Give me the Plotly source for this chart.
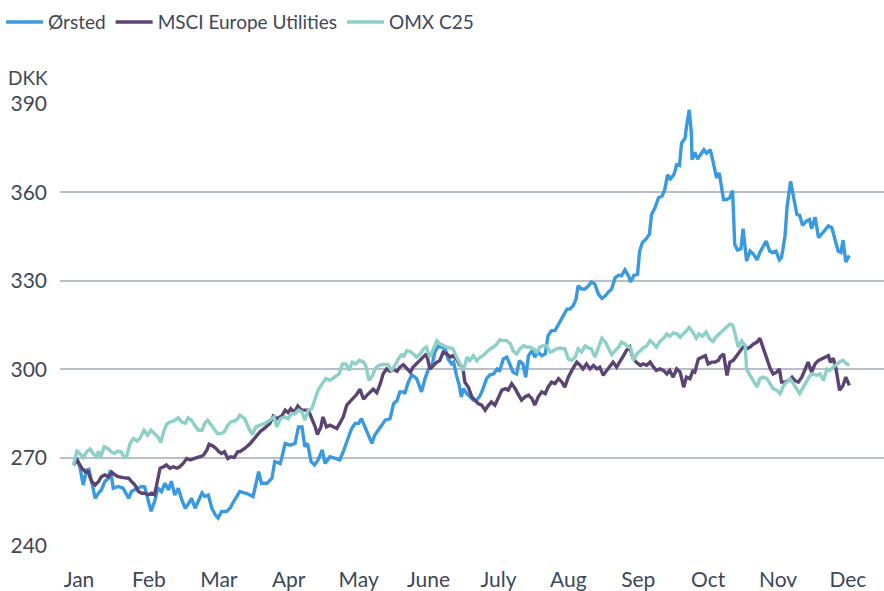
import plotly.graph_objects as go

# x positions are in months (0 = Jan, 11 = Dec)
months = ["Jan", "Feb", "Mar", "Apr", "May", "June", "July", "Aug", "Sep", "Oct", "Nov", "Dec"]

orsted_x = [-0.08, -0.03, 0.01, 0.06, 0.11, 0.14, 0.18, 0.23, 0.28, 0.32, 0.37, 0.42, 0.45, 0.49, 0.56, 0.63, 0.71, 0.75, 0.83, 0.90, 0.94, 0.99, 1.03, 1.08, 1.13, 1.18, 1.23, 1.28, 1.32, 1.37, 1.42, 1.47, 1.52, 1.57, 1.61, 1.66, 1.71, 1.76, 1.80, 1.85, 1.90, 1.95, 1.99, 2.04, 2.11, 2.16, 2.21, 2.26, 2.30, 2.40, 2.49, 2.57, 2.61, 2.69, 2.76, 2.80, 2.88, 2.95, 3.02, 3.09, 3.14, 3.19, 3.23, 3.27, 3.32, 3.37, 3.42, 3.48, 3.52, 3.59, 3.66, 3.73, 3.78, 3.83, 3.90, 3.95, 4.00, 4.04, 4.09, 4.14, 4.19, 4.23, 4.31, 4.38, 4.45, 4.50, 4.55, 4.59, 4.64, 4.66, 4.71, 4.76, 4.83, 4.90, 4.95, 5.00, 5.05, 5.09, 5.14, 5.19, 5.24, 5.28, 5.33, 5.36, 5.40, 5.44, 5.47, 5.50, 5.55, 5.59, 5.64, 5.69, 5.74, 5.78, 5.83, 5.88, 5.93, 5.98, 6.02, 6.07, 6.12, 6.17, 6.21, 6.26, 6.30, 6.35, 6.39, 6.43, 6.48, 6.52, 6.57, 6.62, 6.67, 6.71, 6.76, 6.81, 6.86, 6.91, 6.93, 6.98, 7.02, 7.07, 7.11, 7.14, 7.19, 7.24, 7.29, 7.33, 7.38, 7.43, 7.48, 7.53, 7.57, 7.62, 7.67, 7.72, 7.76, 7.81, 7.86, 7.89, 7.94, 7.99, 8.02, 8.06, 8.11, 8.16, 8.19, 8.24, 8.29, 8.34, 8.38, 8.42, 8.46, 8.51, 8.55, 8.59, 8.62, 8.67, 8.69, 8.73, 8.76, 8.77, 8.81, 8.85, 8.89, 8.94, 8.98, 9.03, 9.07, 9.12, 9.16, 9.22, 9.27, 9.31, 9.35, 9.38, 9.42, 9.47, 9.50, 9.55, 9.60, 9.65, 9.70, 9.74, 9.79, 9.83, 9.88, 9.92, 9.97, 10.02, 10.05, 10.10, 10.13, 10.18, 10.22, 10.27, 10.31, 10.35, 10.40, 10.45, 10.48, 10.53, 10.58, 10.63, 10.67, 10.72, 10.77, 10.82, 10.86, 10.90, 10.93, 10.97, 11.02]
orsted_y = [267.5, 269.7, 267, 260.7, 265.8, 266, 262, 256.2, 258, 259, 261.9, 263, 265.8, 259.6, 260.2, 259.6, 256.2, 258.5, 259.6, 260.2, 260, 255, 251.8, 255, 259.6, 258.5, 261.3, 259, 262, 257.3, 259.6, 255.7, 252.8, 254.5, 256.2, 252.8, 255.7, 258, 256.8, 257.3, 252.8, 250.6, 249.5, 251.7, 251.7, 252.8, 255, 256.8, 258.5, 257.8, 256.8, 265.2, 261.3, 261.3, 263, 268.6, 268, 274.8, 274.2, 274.8, 280.4, 280.4, 273.7, 274.8, 268.6, 267.5, 269.2, 272.6, 268, 270.3, 269.7, 269.2, 272, 275.4, 279.9, 281.6, 281.6, 283.2, 280.4, 277.6, 274.8, 277.6, 280.4, 282.7, 283.2, 288.3, 289.4, 292.3, 292.3, 291.7, 295.6, 298.1, 296.8, 292.3, 296.8, 300.1, 301.3, 305.8, 307.8, 307.5, 306.9, 303.5, 301.8, 302.4, 297.9, 294.5, 290.6, 293.4, 291.7, 290.6, 289.5, 289.5, 291.1, 293.4, 296.8, 298.1, 298.4, 300.1, 299.6, 303.5, 304.1, 301.3, 299, 298.4, 302.9, 301.8, 297.3, 304.6, 306.3, 304.1, 305.8, 304.6, 305.2, 311.4, 313.1, 313.1, 315.3, 317.6, 318.2, 320.4, 320.4, 321.5, 323.8, 328.3, 327.2, 327.2, 328.3, 329.6, 328.9, 325.5, 324, 324.9, 326.1, 327.2, 331.1, 331.9, 331.7, 333.7, 331.7, 329.6, 331.9, 332.2, 340.1, 343, 344.1, 345.8, 352.5, 354.8, 358.2, 358.7, 361, 366, 364.6, 366, 369.4, 369.1, 376.7, 378.4, 382.3, 388, 380.1, 371.1, 373.6, 371.3, 372.8, 374.5, 373.3, 374.5, 370.5, 364.9, 366.6, 357.6, 357.6, 358.2, 360.6, 342.4, 340.4, 340.9, 347.7, 336.7, 340.1, 339, 337.1, 339.6, 341.8, 343.5, 340.1, 339.6, 340.1, 337.1, 337.9, 345.2, 355.3, 363.8, 358.7, 352.5, 352.2, 348.8, 350.2, 350.8, 347.7, 351.6, 344.6, 346.1, 346.9, 348.6, 348, 344.1, 340.1, 339.6, 343.8, 336.4, 338.6]

msci_x = [-0.08, -0.03, 0.04, 0.09, 0.13, 0.18, 0.23, 0.28, 0.32, 0.37, 0.42, 0.47, 0.52, 0.56, 0.63, 0.71, 0.75, 0.80, 0.85, 0.90, 0.94, 0.99, 1.04, 1.08, 1.11, 1.16, 1.21, 1.25, 1.30, 1.35, 1.40, 1.44, 1.49, 1.54, 1.59, 1.64, 1.68, 1.73, 1.78, 1.83, 1.86, 1.91, 1.96, 2.00, 2.04, 2.08, 2.13, 2.17, 2.22, 2.27, 2.30, 2.37, 2.45, 2.52, 2.59, 2.66, 2.73, 2.78, 2.83, 2.90, 2.95, 2.99, 3.03, 3.08, 3.13, 3.18, 3.23, 3.28, 3.33, 3.38, 3.41, 3.46, 3.49, 3.54, 3.59, 3.64, 3.69, 3.73, 3.78, 3.83, 3.88, 3.92, 3.97, 4.02, 4.07, 4.12, 4.16, 4.21, 4.26, 4.31, 4.35, 4.40, 4.45, 4.50, 4.55, 4.59, 4.64, 4.69, 4.74, 4.78, 4.83, 4.88, 4.93, 4.97, 5.02, 5.07, 5.12, 5.16, 5.21, 5.26, 5.31, 5.35, 5.40, 5.45, 5.49, 5.52, 5.57, 5.62, 5.67, 5.71, 5.76, 5.81, 5.86, 5.90, 5.95, 6.00, 6.05, 6.10, 6.14, 6.19, 6.24, 6.29, 6.33, 6.38, 6.43, 6.48, 6.52, 6.57, 6.62, 6.67, 6.71, 6.76, 6.81, 6.86, 6.91, 6.95, 7.00, 7.05, 7.12, 7.17, 7.21, 7.26, 7.31, 7.36, 7.41, 7.45, 7.50, 7.55, 7.60, 7.64, 7.69, 7.74, 7.79, 7.83, 7.88, 7.92, 7.97, 8.03, 8.07, 8.12, 8.17, 8.22, 8.26, 8.31, 8.36, 8.41, 8.45, 8.50, 8.55, 8.60, 8.65, 8.69, 8.74, 8.78, 8.81, 8.86, 8.91, 8.96, 9.00, 9.05, 9.10, 9.15, 9.17, 9.22, 9.27, 9.31, 9.36, 9.41, 9.46, 9.50, 9.55, 9.60, 9.65, 9.70, 9.74, 9.79, 9.84, 9.89, 9.93, 9.98, 10.02, 10.05, 10.10, 10.15, 10.20, 10.24, 10.29, 10.34, 10.39, 10.43, 10.48, 10.53, 10.58, 10.63, 10.67, 10.72, 10.75, 10.79, 10.83, 10.88, 10.93, 10.97, 11.02]
msci_y = [267.5, 269.2, 266.4, 265.2, 265.2, 261.9, 260.7, 261.9, 263.5, 264.1, 263.5, 265, 264.1, 263.5, 263.2, 263, 261.9, 260.7, 258.5, 257.9, 257.9, 257.4, 257.9, 257.4, 260.7, 266.4, 266.9, 267.5, 266.4, 266.9, 266.4, 266.9, 268, 269.7, 269.2, 269.5, 270, 270.3, 270.8, 272.6, 274.5, 274, 273.1, 272, 271.4, 272, 269.7, 270.3, 270, 272, 272, 273.1, 274.8, 277, 278.8, 280.1, 281.6, 284.1, 283.2, 284.1, 286.1, 285.3, 286.6, 285.3, 287.5, 286.1, 286.1, 286.1, 283.2, 280.4, 277.8, 280.4, 283.8, 280.4, 281, 280.4, 279.9, 281.6, 283.8, 287.8, 289.1, 290, 291.4, 293.2, 289.8, 291.2, 292, 293.2, 292, 295.1, 298.4, 300.1, 299.3, 299.9, 299.3, 300.7, 301.5, 300.1, 299, 300.7, 301.8, 302.9, 304.1, 305.2, 300.1, 301.3, 302.4, 302.9, 305.8, 305.2, 304.1, 304.6, 303.5, 301.3, 300.7, 295.6, 293.9, 290.6, 289.5, 288.3, 287.8, 286.1, 287.8, 288.9, 287.8, 290.6, 292.9, 293.4, 292.9, 295.1, 293.4, 291.2, 289.5, 290.6, 291.2, 290, 287.8, 290.6, 292.3, 291.7, 293.9, 295.6, 295.1, 296.8, 295.6, 293.9, 297.3, 299.6, 302.4, 301.3, 300.1, 301.8, 300.1, 301.3, 300.1, 300.7, 297.9, 299.6, 301.3, 302.4, 300.7, 302.4, 304.6, 306.3, 307.5, 304.1, 302.4, 301.3, 301.8, 301.3, 302.4, 300.7, 299.6, 300.1, 299.6, 298.4, 299.6, 297.3, 300.1, 299, 293.9, 297.3, 296.8, 299.3, 299, 303.5, 304.1, 304.6, 301.8, 302.4, 302.4, 303, 304.1, 305.2, 297.9, 302.4, 303, 304.6, 305.8, 307.5, 306.9, 307.5, 308.6, 309.2, 310.5, 306.9, 303.5, 300.1, 298.4, 299, 300.1, 295.6, 295.6, 296.2, 297.3, 296.2, 295.6, 297.3, 300.1, 302.4, 299, 301.8, 303, 303.5, 304.1, 304.6, 302.4, 303.7, 300.1, 292.9, 294.5, 297.3, 294.5]

omx_x = [-0.08, -0.03, 0.01, 0.06, 0.11, 0.16, 0.20, 0.25, 0.28, 0.31, 0.36, 0.41, 0.46, 0.51, 0.55, 0.60, 0.65, 0.68, 0.73, 0.78, 0.83, 0.87, 0.93, 0.98, 1.03, 1.08, 1.13, 1.17, 1.21, 1.25, 1.30, 1.35, 1.42, 1.47, 1.52, 1.56, 1.61, 1.66, 1.71, 1.76, 1.80, 1.84, 1.89, 1.94, 1.98, 2.03, 2.08, 2.13, 2.17, 2.22, 2.27, 2.30, 2.37, 2.43, 2.48, 2.53, 2.59, 2.66, 2.73, 2.79, 2.83, 2.88, 2.94, 2.99, 3.04, 3.09, 3.14, 3.19, 3.23, 3.28, 3.33, 3.38, 3.42, 3.48, 3.53, 3.59, 3.65, 3.72, 3.77, 3.82, 3.86, 3.91, 3.96, 4.01, 4.07, 4.10, 4.15, 4.20, 4.24, 4.29, 4.35, 4.42, 4.47, 4.52, 4.57, 4.62, 4.64, 4.69, 4.74, 4.78, 4.83, 4.88, 4.93, 4.97, 5.02, 5.07, 5.12, 5.16, 5.21, 5.26, 5.31, 5.35, 5.40, 5.45, 5.50, 5.55, 5.59, 5.64, 5.69, 5.74, 5.78, 5.83, 5.88, 5.93, 5.98, 6.02, 6.07, 6.12, 6.17, 6.21, 6.26, 6.31, 6.36, 6.40, 6.45, 6.50, 6.55, 6.59, 6.64, 6.69, 6.74, 6.79, 6.83, 6.88, 6.95, 7.00, 7.05, 7.10, 7.14, 7.19, 7.24, 7.29, 7.33, 7.38, 7.43, 7.48, 7.53, 7.57, 7.62, 7.67, 7.72, 7.76, 7.81, 7.86, 7.89, 7.93, 7.98, 8.03, 8.07, 8.12, 8.17, 8.22, 8.26, 8.31, 8.36, 8.41, 8.45, 8.50, 8.55, 8.60, 8.65, 8.69, 8.73, 8.78, 8.83, 8.87, 8.92, 8.97, 9.02, 9.07, 9.11, 9.16, 9.22, 9.27, 9.31, 9.35, 9.38, 9.43, 9.48, 9.53, 9.55, 9.60, 9.65, 9.70, 9.74, 9.79, 9.84, 9.89, 9.93, 9.98, 10.03, 10.08, 10.12, 10.17, 10.22, 10.27, 10.31, 10.36, 10.41, 10.46, 10.50, 10.55, 10.60, 10.65, 10.70, 10.74, 10.79, 10.84, 10.89, 10.93, 10.98, 11.02]
omx_y = [267.5, 272.2, 271.4, 270, 272, 272.9, 271.4, 270.3, 272.2, 270, 273.7, 273.1, 272, 271.4, 272.2, 272, 270, 270.3, 274.8, 276.5, 275.6, 276.5, 279.3, 277.6, 279.3, 278.2, 277, 275.1, 278.8, 281.2, 282.1, 282.4, 283.5, 282.1, 281.6, 283.5, 282.7, 280.8, 279.3, 279.3, 281.6, 282.7, 281, 279.3, 278.2, 278.2, 278.8, 281, 282.1, 282.4, 283.2, 284.4, 283.2, 279.9, 277.8, 280.4, 281, 281.6, 282.7, 283.8, 280.4, 283.2, 283.8, 283.2, 284.9, 284.9, 286.1, 285.5, 282.7, 286.1, 286.6, 290, 292.9, 295.1, 296.8, 296.2, 297.3, 298.4, 301.8, 301.8, 299.6, 302.4, 301.8, 303, 302.4, 301.3, 296.2, 297.9, 300.3, 301.3, 301.6, 301.6, 299.6, 301.3, 303.5, 305.2, 304.1, 306.3, 306, 305.2, 304.1, 305.2, 306.9, 307.5, 304.1, 306.9, 309.7, 308.6, 308, 307.5, 307.2, 306.9, 304.1, 301.8, 299.6, 304.1, 302.9, 304.6, 302.9, 304.1, 304.6, 305.8, 306.9, 307.5, 308.6, 310, 309.7, 309.7, 308.6, 306.3, 305.2, 306.9, 308, 307.5, 307.5, 306.9, 305.8, 307.5, 308, 308, 305.8, 306.3, 306.9, 307.2, 306.9, 303.5, 303, 304.1, 306.9, 305.8, 307.9, 307.2, 306.9, 304.1, 307.5, 310.5, 309.2, 307.5, 304.9, 306.3, 307.5, 309.2, 308.6, 307.5, 307.5, 303, 305.2, 306.3, 307.2, 307.9, 309.7, 308.6, 307.5, 309.4, 310.5, 312, 311.2, 312.3, 312, 310.9, 312, 313.1, 314.2, 312.6, 310.5, 312, 311.2, 312.6, 310.3, 309.4, 310.9, 312, 313.1, 314.5, 315.3, 315, 312.6, 307.5, 309.7, 308, 300.1, 297.9, 295.6, 293.9, 296.8, 297.3, 296.8, 295.1, 293.4, 292.9, 291.7, 294.5, 295.6, 296.8, 295.1, 293.4, 291.7, 293.9, 296.2, 297.9, 298.4, 297.9, 298.4, 296.2, 300.1, 299.6, 300.7, 301.8, 302.6, 303, 301.8, 301.5]

y_ticks = [240, 270, 300, 330, 360, 390]

text_color = "#3d4858"
font_family = "Lato, 'Open Sans', sans-serif"

fig = go.Figure()
fig.add_trace(go.Scatter(x=orsted_x, y=orsted_y, mode="lines", name="Ørsted",
                         line=dict(color="#3a9ae0", width=3.4)))
fig.add_trace(go.Scatter(x=msci_x, y=msci_y, mode="lines", name="MSCI Europe Utilities",
                         line=dict(color="#5b4473", width=3.4)))
fig.add_trace(go.Scatter(x=omx_x, y=omx_y, mode="lines", name="OMX C25",
                         line=dict(color="#8dd0c7", width=3.4)))

fig.update_layout(
    width=884, height=591,
    margin=dict(l=60, r=0, t=104, b=43),
    paper_bgcolor="white", plot_bgcolor="white",
    font=dict(family=font_family, size=19, color=text_color),
    showlegend=True,
    legend=dict(orientation="h", x=-0.0715, xanchor="left", y=1.228, yanchor="top",
                font=dict(size=19, color=text_color), itemwidth=37,
                bgcolor="rgba(0,0,0,0)"),
    xaxis=dict(range=[-0.272, 11.516], tickmode="array", tickvals=list(range(12)),
               ticktext=months, showgrid=False, zeroline=False, showline=False,
               ticks="", ticklabelstandoff=19, tickfont=dict(size=21, color=text_color)),
    yaxis=dict(range=[240, 390], tickmode="array", tickvals=y_ticks,
               showgrid=True, gridcolor="#b9bfc7", gridwidth=1.5, zeroline=False,
               showline=False, ticks="", ticklabelstandoff=12,
               tickfont=dict(size=21, color=text_color)),
    annotations=[dict(text="DKK", xref="paper", yref="paper", x=0, y=1, xshift=-54, yshift=27,
                      xanchor="left", yanchor="middle", showarrow=False,
                      font=dict(size=19, color=text_color))],
)

fig.write_html("out.html")
